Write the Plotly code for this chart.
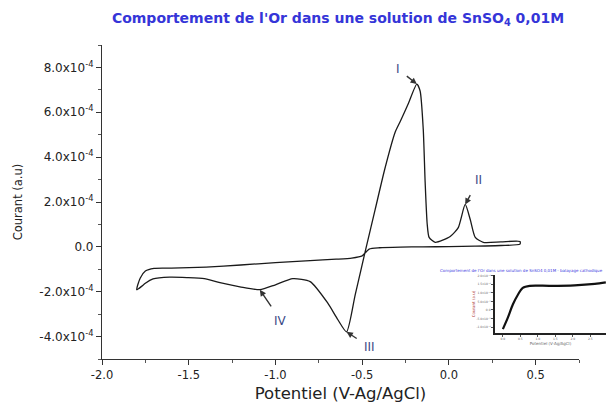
import plotly.graph_objects as go

# Cyclic voltammogram of gold in 0.01 M SnSO4 (potential in V vs Ag/AgCl, current in a.u.)
potential = [
    0.41, 0.30, 0.15, 0.0, -0.15, -0.28, -0.40, -0.46, -0.50, -0.56,
    -0.65, -0.80, -1.00, -1.20, -1.40, -1.60, -1.70, -1.75, -1.78, -1.80,
    -1.77, -1.75, -1.706, -1.61, -1.51, -1.41, -1.32, -1.205, -1.09, -1.0,
    -0.90, -0.80, -0.70, -0.64, -0.59, -0.54, -0.48, -0.425, -0.37, -0.31,
    -0.28, -0.235, -0.185, -0.166, -0.148, -0.137, -0.125, -0.114, -0.079, 0.0075,
    0.054, 0.094, 0.123, 0.152, 0.198, 0.30, 0.41, 0.41,
]
current = [
    0.12e-4, 0.06e-4, 0.03e-4, 0.01e-4, 0.0, -0.01e-4, -0.04e-4, -0.10e-4, -0.40e-4, -0.50e-4,
    -0.55e-4, -0.61e-4, -0.70e-4, -0.81e-4, -0.90e-4, -0.95e-4, -0.96e-4, -1.08e-4, -1.40e-4, -1.91e-4,
    -1.75e-4, -1.62e-4, -1.43e-4, -1.35e-4, -1.37e-4, -1.42e-4, -1.60e-4, -1.78e-4, -1.91e-4, -1.69e-4,
    -1.42e-4, -1.55e-4, -2.49e-4, -3.25e-4, -3.79e-4, -2.13e-4, -0.12e-4, 1.67e-4, 3.46e-4, 5.11e-4,
    5.60e-4, 6.37e-4, 7.26e-4, 6.95e-4, 5.25e-4, 2.88e-4, 1.00e-4, 0.42e-4, 0.20e-4, 0.46e-4,
    0.86e-4, 1.89e-4, 1.22e-4, 0.42e-4, 0.20e-4, 0.22e-4, 0.24e-4, 0.12e-4,
]

# Labelled peaks: (name, potential, current, label offset in px)
peak_names = ["I", "II", "III", "IV"]
peak_potential = [-0.185, 0.094, -0.59, -1.09]
peak_current = [7.26e-4, 1.89e-4, -3.79e-4, -1.91e-4]
label_dx = [-19, 13, 23, 21]
label_dy = [-15, -24, 15, 31]

# Axis ticks
x_ticks = [-2.0, -1.5, -1.0, -0.5, 0.0, 0.5]
x_ticktext = ["-2.0", "-1.5", "-1.0", "-0.5", "0.0", "0.5"]
y_ticks = [-4e-4, -2e-4, 0.0, 2e-4, 4e-4, 6e-4, 8e-4]
y_ticktext = ["-4.0x10<sup>-4</sup>", "-2.0x10<sup>-4</sup>", "0.0",
              "2.0x10<sup>-4</sup>", "4.0x10<sup>-4</sup>",
              "6.0x10<sup>-4</sup>", "8.0x10<sup>-4</sup>"]

# Small inset curve
inset_x = [0.0, 0.29, 0.57, 0.86, 1.14, 1.54, 2.69, 4.1, 5.26, 5.89]
inset_y = [-0.24, 1.14, 2.64, 3.79, 4.6, 4.83, 4.83, 4.89, 5.06, 5.23]
inset_xticks = [0, 1, 2, 3, 4, 5]
inset_xtext = ["0.0", "0.5", "1.0", "1.5", "2.0", "2.5"]
inset_yticks = [0, 1, 2, 3, 4, 5, 6]
inset_ytext = ["-1.0x10⁻⁴", "-5.0x10⁻⁵", "0.0", "5.0x10⁻⁵", "1.0x10⁻⁴", "1.5x10⁻⁴", "2.0x10⁻⁴"]

FONT = "DejaVu Sans, Verdana, sans-serif"
INK = "#222222"
LABEL = "#3b4a86"

fig = go.Figure()
fig.add_trace(go.Scatter(
    x=potential, y=current, mode="lines",
    line=dict(color="#1a1a1a", width=1.3, shape="spline", smoothing=0.6),
    hoverinfo="skip", showlegend=False,
))
fig.add_trace(go.Scatter(
    x=inset_x, y=inset_y, mode="lines", xaxis="x2", yaxis="y2",
    line=dict(color="#111111", width=2.2, shape="spline", smoothing=0.8),
    hoverinfo="skip", showlegend=False,
))

for name, px, py, dx, dy in zip(peak_names, peak_potential, peak_current, label_dx, label_dy):
    fig.add_annotation(
        x=px, y=py, xref="x", yref="y", text=name,
        ax=dx, ay=dy, showarrow=True,
        arrowhead=2, arrowsize=0.9, arrowwidth=1.4, arrowcolor="#333333",
        standoff=0, startstandoff=7,
        font=dict(family=FONT, size=12, color=LABEL),
    )

fig.update_layout(
    width=606, height=405,
    margin=dict(l=102, r=0, t=45, b=46),
    paper_bgcolor="white", plot_bgcolor="white",
    font=dict(family=FONT, color=INK),
    title=dict(
        text="<b>Comportement de l'Or dans une solution de SnSO<sub>4</sub> 0,01M</b>",
        x=338 / 606, xanchor="center", xref="container",
        y=1 - 18 / 405, yanchor="middle", yref="container",
        font=dict(family=FONT, size=14, color="#3535d8"),
    ),
    xaxis=dict(
        domain=[0, 477 / 504], range=[-2.0, 0.75],
        tickvals=x_ticks, ticktext=x_ticktext,
        ticks="outside", ticklen=5, tickwidth=1, tickcolor="#333",
        minor=dict(dtick=0.25, tick0=0, ticks="outside", ticklen=3, tickcolor="#555"),
        showline=True, linecolor="#333", linewidth=1.2,
        showgrid=False, zeroline=False,
        tickfont=dict(size=11.5, color=INK),
        title=dict(text="Potentiel (V-Ag/AgCl)", font=dict(size=16.5, color=INK), standoff=6),
    ),
    yaxis=dict(
        range=[-5e-4, 9e-4],
        tickvals=y_ticks, ticktext=y_ticktext,
        ticks="outside", ticklen=5, tickwidth=1, tickcolor="#333",
        minor=dict(dtick=1e-4, tick0=0, ticks="outside", ticklen=3, tickcolor="#555"),
        showline=True, linecolor="#333", linewidth=1.2,
        showgrid=False, zeroline=False,
        tickfont=dict(size=12, color=INK),
        title=dict(text="Courant (a.u)", font=dict(size=11.5, color=INK), standoff=14),
    ),
    xaxis2=dict(
        domain=[393 / 504, 1.0], range=[-0.45, 5.9], anchor="y2",
        tickvals=inset_xticks, ticktext=inset_xtext,
        ticks="outside", ticklen=2, tickcolor="#555",
        showline=True, linecolor="#222", linewidth=1.5,
        showgrid=False, zeroline=False,
        tickfont=dict(size=3, color="#666"),
        title=dict(text="Potentiel (V-Ag/AgCl)", font=dict(size=4, color="#666"), standoff=1),
    ),
    yaxis2=dict(
        domain=[26 / 314, 84 / 314], range=[-0.7, 6.1], anchor="x2",
        tickvals=inset_yticks, ticktext=inset_ytext,
        ticks="outside", ticklen=2, tickcolor="#555",
        showline=True, linecolor="#222", linewidth=1.5,
        showgrid=False, zeroline=False,
        tickfont=dict(size=3, color="#666"),
        title=dict(text="Courant (a.u)", font=dict(size=4, color="#b04040"), standoff=1),
    ),
)

fig.add_annotation(
    x=503 / 504, y=89 / 314, xref="paper", yref="paper", xanchor="right", yanchor="middle",
    text="Comportement de l'Or dans une solution de SnSO4 0,01M - balayage cathodique",
    showarrow=False, font=dict(family=FONT, size=4, color="#4040e0"),
)

fig.write_html("out.html")
